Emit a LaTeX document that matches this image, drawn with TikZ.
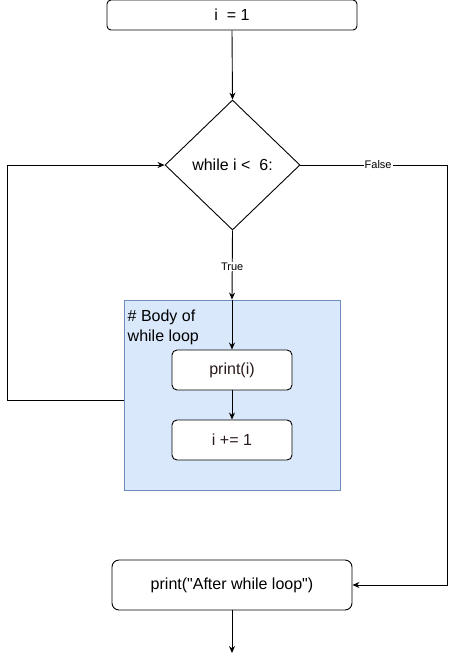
\documentclass[tikz,border=0pt]{standalone}
\usepackage{fontspec}
\setmainfont{Liberation Sans}
\newfontfamily\rawfont{Liberation Sans}[Ligatures=ResetAll]
\usetikzlibrary{shapes.geometric,arrows.meta}
\definecolor{bodyfill}{HTML}{DAE8FC}
\definecolor{bodyline}{HTML}{6C8EBF}
\definecolor{codetext}{HTML}{2A1A1A}
\tikzset{
  box/.style={draw=black, line width=0.9pt, rounded corners=5pt, fill=white, inner sep=0pt, font=\fontsize{16}{18}\selectfont},
  decision/.style={draw=black, line width=0.9pt, diamond, fill=white, inner sep=0pt, minimum width=135pt, minimum height=130pt, font=\fontsize{16}{18}\selectfont},
  conn/.style={draw=black, line width=0.9pt, -{Stealth[length=7pt,width=6pt]}},
  lbl/.style={fill=white, inner sep=1pt, font=\fontsize{11}{12}\selectfont}
}
\begin{document}
\begin{tikzpicture}[x=1pt,y=-1pt]
\useasboundingbox (0,0) rectangle (456,664);
% body container
\node[draw=bodyline, fill=bodyfill, line width=0.9pt, minimum width=216pt, minimum height=190pt, inner sep=0pt] (body) at (232,395) {};
\node[anchor=north west, align=left, inner sep=0pt, font=\fontsize{16}{20}\selectfont] (bodylbl) at (127.5,309.5) {\# Body of\\while loop};
% nodes
\node[box, rounded corners=4pt, minimum width=250pt, minimum height=30pt] (init) at (232,15) {i\ \ = 1};
\node[decision] (cond) at (232.5,165) {while i <\ \ 6:};
\node[box, minimum width=120pt, minimum height=40pt, text=codetext] (pr) at (232,370) {print(i)};
\node[box, minimum width=120pt, minimum height=40pt, text=codetext] (inc) at (232,440) {i += 1};
\node[box, rounded corners=7pt, minimum width=240pt, minimum height=50pt] (after) at (232,585) {\rawfont print("After while loop")};
\coordinate (endpt) at (232,653);
\coordinate (loopA) at (7,400);
\coordinate (loopB) at (7,165);
\coordinate (falseA) at (447,165);
\coordinate (falseB) at (447,585);
% connectors
\draw[conn] (init.south) -- (cond.north);
\draw[conn] (cond.south) -- node[lbl, pos=0.52] (truelbl) {True} (body.north);
\draw[conn] (body.north) -- (pr.north);
\draw[conn] (pr.south) -- (inc.north);
\draw[conn] (body.west |- loopA) -- (loopA) -- (loopB) -- (cond.west);
\draw[conn] (cond.east) -- node[lbl, pos=0.53] (falselbl) {False} (falseA) -- (falseB) -- (after.east);
\draw[conn] (after.south) -- (endpt);
\end{tikzpicture}
\end{document}
